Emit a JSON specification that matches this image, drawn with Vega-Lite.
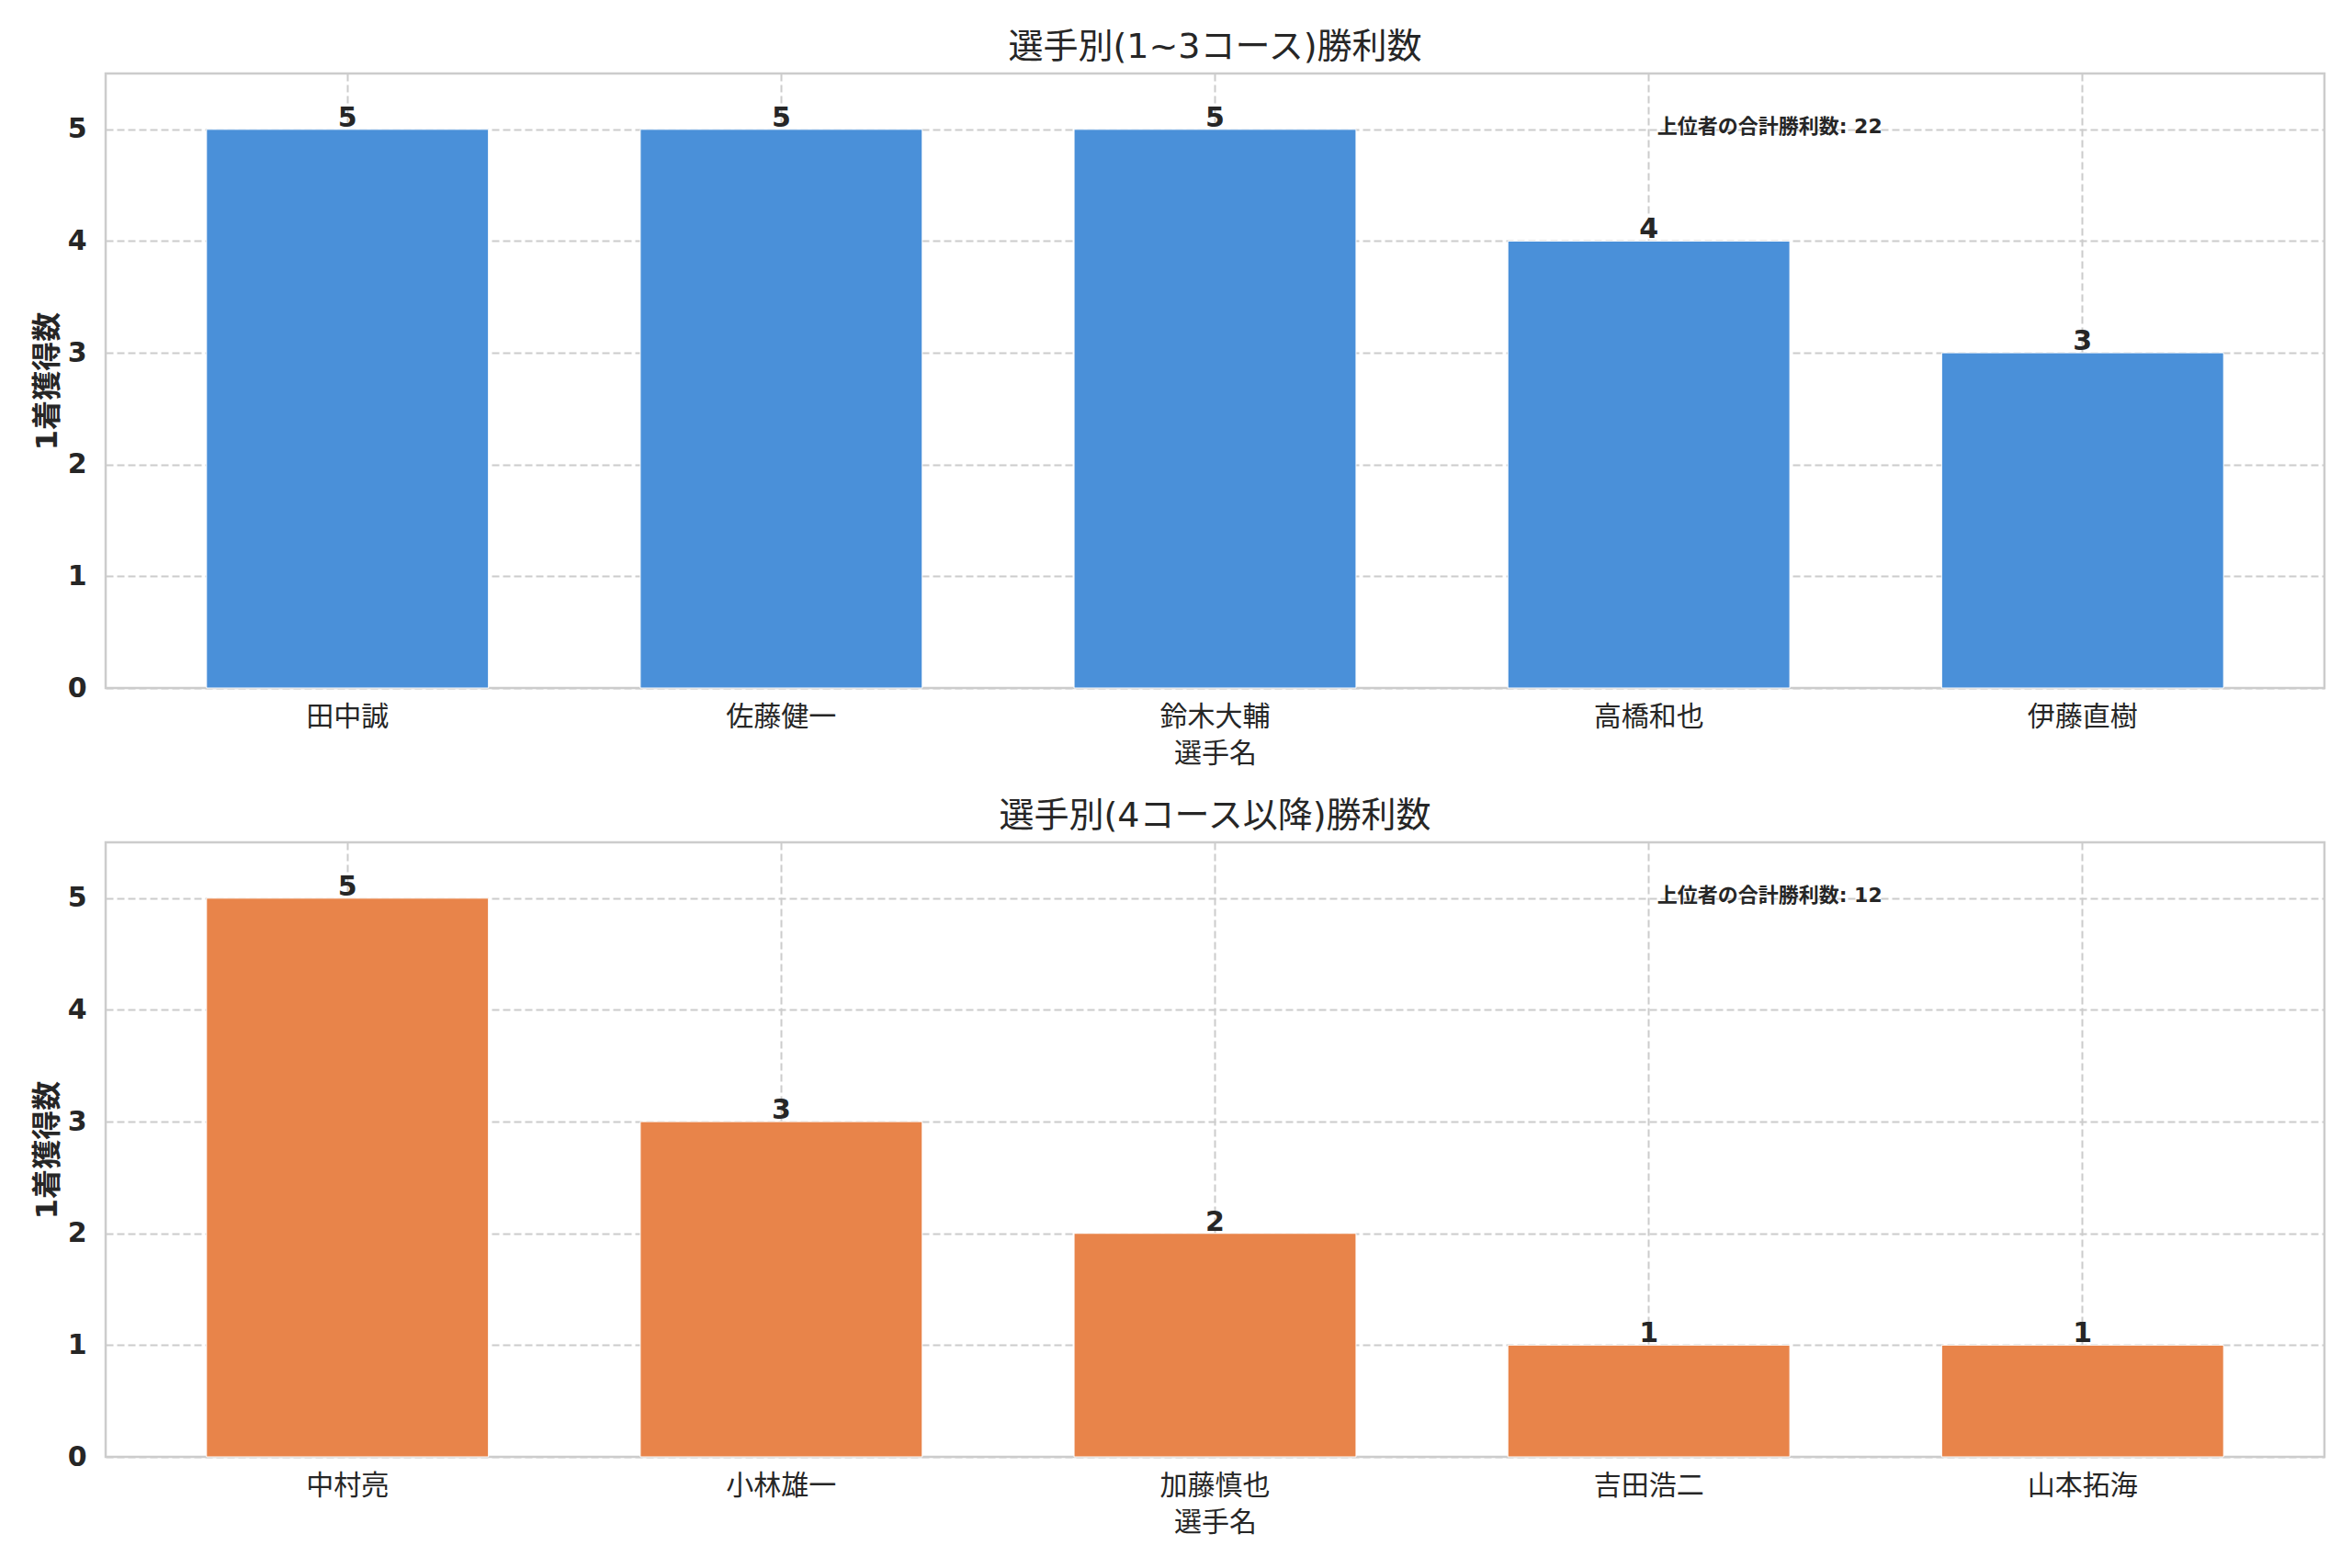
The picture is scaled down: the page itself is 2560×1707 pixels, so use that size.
{
  "$schema": "https://vega.github.io/schema/vega-lite/v6.json",
  "background": "white",
  "padding": {"left": 33, "top": 31, "right": 20, "bottom": 10},
  "datasets": {
    "low": [
      {"player": "田中誠", "wins": 5},
      {"player": "佐藤健一", "wins": 5},
      {"player": "鈴木大輔", "wins": 5},
      {"player": "高橋和也", "wins": 4},
      {"player": "伊藤直樹", "wins": 3}
    ],
    "high": [
      {"player": "中村亮", "wins": 5},
      {"player": "小林雄一", "wins": 3},
      {"player": "加藤慎也", "wins": 2},
      {"player": "吉田浩二", "wins": 1},
      {"player": "山本拓海", "wins": 1}
    ],
    "notes": [
      {"panel": "low", "note": "上位者の合計勝利数: 22", "anchor": "高橋和也", "level": 5},
      {"panel": "high", "note": "上位者の合計勝利数: 12", "anchor": "吉田浩二", "level": 5}
    ]
  },
  "spacing": 31,
  "vconcat": [
    {
      "width": 2415,
      "height": 669,
      "title": "選手別(1~3コース)勝利数",
      "layer": [
        {
          "data": {"name": "low"},
          "mark": {"type": "bar", "color": "#4A90D9", "stroke": "#ffffff", "strokeWidth": 1},
          "encoding": {
            "x": {"field": "player", "type": "nominal", "title": "選手名",
                  "scale": {"domain": ["田中誠", "佐藤健一", "鈴木大輔", "高橋和也", "伊藤直樹"], "paddingInner": 0.35, "paddingOuter": 0.2325}},
            "y": {"field": "wins", "type": "quantitative", "title": "1着獲得数",
                  "scale": {"domain": [0, 5.5], "nice": false},
                  "axis": {"values": [0, 1, 2, 3, 4, 5], "format": "d"}}
          }
        },
        {
          "data": {"name": "low"},
          "mark": {"type": "text", "baseline": "alphabetic", "dy": -3, "fontSize": 30, "fontWeight": "bold", "color": "#262626"},
          "encoding": {
            "x": {"field": "player", "type": "nominal"},
            "y": {"field": "wins", "type": "quantitative"},
            "text": {"field": "wins", "type": "quantitative"}
          }
        },
        {
          "data": {"name": "notes"},
          "transform": [{"filter": "datum.panel === 'low'"}],
          "mark": {"type": "text", "align": "left", "baseline": "middle", "dx": 9, "dy": -3, "fontSize": 22, "fontWeight": "bold", "color": "#262626"},
          "encoding": {
            "x": {"field": "anchor", "type": "nominal"},
            "y": {"field": "level", "type": "quantitative"},
            "text": {"field": "note", "type": "nominal"}
          }
        }
      ]
    },
    {
      "width": 2415,
      "height": 669,
      "title": "選手別(4コース以降)勝利数",
      "layer": [
        {
          "data": {"name": "high"},
          "mark": {"type": "bar", "color": "#E8844A", "stroke": "#ffffff", "strokeWidth": 1},
          "encoding": {
            "x": {"field": "player", "type": "nominal", "title": "選手名",
                  "scale": {"domain": ["中村亮", "小林雄一", "加藤慎也", "吉田浩二", "山本拓海"], "paddingInner": 0.35, "paddingOuter": 0.2325}},
            "y": {"field": "wins", "type": "quantitative", "title": "1着獲得数",
                  "scale": {"domain": [0, 5.5], "nice": false},
                  "axis": {"values": [0, 1, 2, 3, 4, 5], "format": "d"}}
          }
        },
        {
          "data": {"name": "high"},
          "mark": {"type": "text", "baseline": "alphabetic", "dy": -3, "fontSize": 30, "fontWeight": "bold", "color": "#262626"},
          "encoding": {
            "x": {"field": "player", "type": "nominal"},
            "y": {"field": "wins", "type": "quantitative"},
            "text": {"field": "wins", "type": "quantitative"}
          }
        },
        {
          "data": {"name": "notes"},
          "transform": [{"filter": "datum.panel === 'high'"}],
          "mark": {"type": "text", "align": "left", "baseline": "middle", "dx": 9, "dy": -3, "fontSize": 22, "fontWeight": "bold", "color": "#262626"},
          "encoding": {
            "x": {"field": "anchor", "type": "nominal"},
            "y": {"field": "level", "type": "quantitative"},
            "text": {"field": "note", "type": "nominal"}
          }
        }
      ]
    }
  ],
  "config": {
    "font": "DejaVu Sans, Noto Sans CJK JP",
    "view": {"stroke": "#cccccc", "strokeWidth": 2.5},
    "title": {"fontSize": 38, "fontWeight": "normal", "color": "#262626", "offset": 9, "anchor": "middle"},
    "axis": {
      "domain": false, "ticks": false, "grid": true,
      "gridColor": "#cccccc", "gridDash": [8, 4], "gridWidth": 2,
      "labelColor": "#262626", "titleColor": "#262626"
    },
    "axisX": {
      "labelAngle": 0, "labelFontSize": 30, "labelFontWeight": "normal", "labelPadding": 16,
      "titleFontSize": 30, "titleFontWeight": "normal", "titlePadding": 10, "bandPosition": 0.5
    },
    "axisY": {
      "labelFontSize": 30, "labelFontWeight": "bold", "labelPadding": 21,
      "titleFontSize": 32, "titleFontWeight": "bold", "titlePadding": 5
    }
  }
}
